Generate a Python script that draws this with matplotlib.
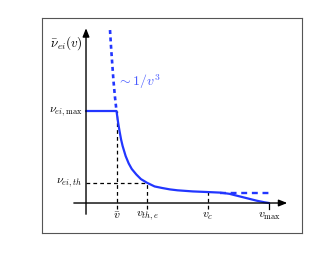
import matplotlib

matplotlib.use("Agg")
import matplotlib.pyplot as plt

plt.rcParams["mathtext.fontset"] = "cm"
plt.rcParams["font.family"] = "serif"

# normalised units: v in units of v_bar-ish spacing, nu in units of nu_max
v_bar, v_th, v_c, v_max = 1.0, 2.0, 4.0, 6.0
nu_max, nu_th = 1.0, 0.22

# collision frequency curve
v_curve = [0.0, 1.0, 1.05, 1.1, 1.15, 1.2, 1.3, 1.4, 1.5, 1.65, 1.8, 2.0, 2.25,
           2.5, 2.75, 3.0, 3.5, 4.0, 4.4, 4.7, 5.0, 5.3, 5.6, 5.85, 6.0]
nu_curve = [1.0, 1.0, 0.88, 0.78, 0.69, 0.62, 0.51, 0.43, 0.37, 0.31, 0.26, 0.22, 0.18,
            0.163, 0.148, 0.138, 0.126, 0.119, 0.113, 0.1, 0.075, 0.05, 0.025, 0.008, 0.0]

# ~1/v^3 extension (dotted) and flat continuation (dashed)
v_ext = [0.787, 0.82, 0.85, 0.9, 0.95, 1.0]
nu_ext = [1.88, 1.70, 1.56, 1.33, 1.15, 1.0]
v_flat = [4.4, 6.0]
nu_flat = [0.113, 0.113]

blue = "#2236ff"

fig = plt.figure(figsize=(3.32, 2.63), dpi=100)
ax = fig.add_axes([42 / 332, 30 / 263, 260 / 332, 215 / 263])
ax.set_xlim(-1.443, 7.082)
ax.set_ylim(-0.326, 2.011)
ax.set_xticks([])
ax.set_yticks([])
for s in ax.spines.values():
    s.set_color("#555555")
    s.set_linewidth(0.8)

# axes with arrows
ax.annotate("", xy=(6.69, 0), xytext=(-0.49, 0),
            arrowprops=dict(arrowstyle="-|>,head_length=0.5,head_width=0.2", lw=1.0, color="black"))
ax.annotate("", xy=(0, 1.93), xytext=(0, -0.152),
            arrowprops=dict(arrowstyle="-|>,head_length=0.5,head_width=0.2", lw=1.0, color="black"))

# guide lines
dash = dict(color="black", lw=0.9, ls=(0, (3, 2.5)))
ax.plot([v_bar, v_bar], [-0.06, nu_max], **dash)
ax.plot([v_th, v_th], [-0.06, nu_th], **dash)
ax.plot([v_c, v_c], [-0.06, 0.119], **dash)
ax.plot([0, v_th], [nu_th, nu_th], **dash)
ax.plot([v_max, v_max], [-0.06, 0.0], color="black", lw=0.9)

ax.plot(v_ext, nu_ext, color=blue, lw=1.9, ls=(0, (1.5, 1.3)))
ax.plot(v_flat, nu_flat, color=blue, lw=1.7, ls=(0, (2.5, 2)))
ax.plot(v_curve, nu_curve, color=blue, lw=1.6, solid_capstyle="round")

ax.text(1.0, 1.32, r"$\sim 1/v^3$", color="#4a5cff", fontsize=10, ha="left", va="center")
ax.text(-0.12, 1.74, r"$\bar{\nu}_{ei}(v)$", fontsize=9.5, ha="right", va="center")
ax.text(-0.12, nu_max, r"$\nu_{ei,\max}$", fontsize=8.5, ha="right", va="center")
ax.text(-0.12, nu_th, r"$\nu_{ei,th}$", fontsize=8.5, ha="right", va="center")

for x, lab in [(v_bar, r"$\bar{v}$"), (v_th, r"$v_{th,e}$"), (v_c, r"$v_c$"), (v_max, r"$v_{\max}$")]:
    ax.text(x, -0.07, lab, fontsize=8.5, ha="center", va="top")

fig.savefig("out.png", dpi=100)
